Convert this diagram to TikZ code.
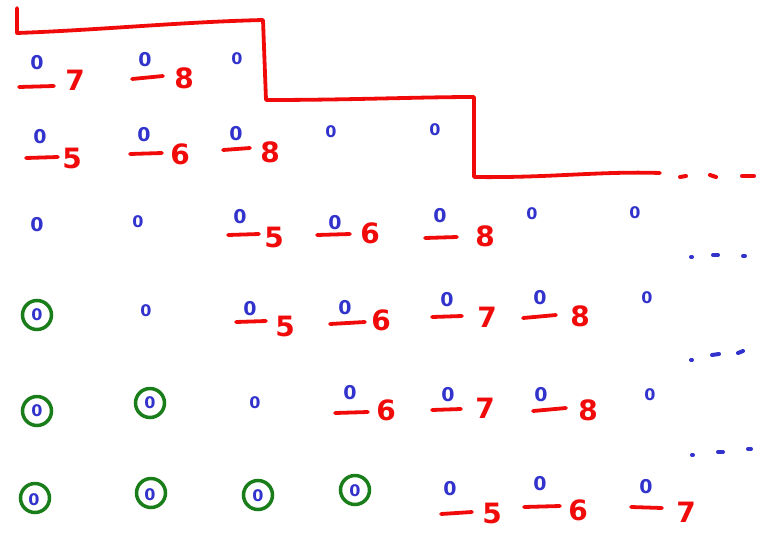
\documentclass[tikz,border=0pt]{standalone}
\usepackage{fontspec}
\setmainfont{DejaVu Sans}
\definecolor{pblue}{RGB}{50,50,205}
\definecolor{pred}{RGB}{240,10,10}
\definecolor{pgreen}{RGB}{25,125,25}
\begin{document}
\begin{tikzpicture}[x=1pt,y=-1pt,
  zero/.style={text=pblue,font=\fontsize{19}{19}\selectfont\bfseries,inner sep=0pt},
  small/.style={text=pblue,font=\fontsize{16}{16}\selectfont\bfseries,inner sep=0pt},
  dig/.style={text=pred,font=\fontsize{28}{28}\selectfont\bfseries,inner sep=0pt},
  ul/.style={draw=pred,line width=3.8pt,line cap=round},
  stair/.style={draw=pred,line width=3.8pt,line cap=round,line join=round},
  ring/.style={draw=pgreen,line width=3.5pt,circle,minimum size=29pt,inner sep=0pt},
  bdash/.style={draw=pblue,line width=4pt,line cap=round},
  rdash/.style={draw=pred,line width=4pt,line cap=round}]
\useasboundingbox (0,0) rectangle (766,542);
% staircase
\draw[stair] (17,8) -- (17,33) .. controls (100,30) and (180,22) .. (263,20)
  -- (266,100) .. controls (350,100) and (420,97) .. (474,97)
  -- (474,177) .. controls (550,178) and (600,171) .. (660,173);
\draw[rdash] (680,177) -- (686,176);
\draw[rdash] (710,175) -- (716,177);
\draw[rdash] (742,176) -- (754,176);
% row 1
\node[zero] (a1) at (37,63) {0};
\draw[ul] (19,87) -- (54,86);
\node[dig] (a1d) at (75,80) {7};
\node[zero] (a2) at (145,60) {0};
\draw[ul] (132,79) -- (163,76);
\node[dig] (a2d) at (184,78) {8};
\node[small] (a3) at (237,59) {0};
% row 2
\node[zero] (b1) at (40,137) {0};
\draw[ul] (26,158) -- (58,157);
\node[dig] (b1d) at (72,158) {5};
\node[zero] (b2) at (144,135) {0};
\draw[ul] (130,154) -- (162,153);
\node[dig] (b2d) at (180,154) {6};
\node[zero] (b3) at (236,134) {0};
\draw[ul] (223,150) -- (250,148);
\node[dig] (b3d) at (270,152) {8};
\node[small] (b4) at (331,132) {0};
\node[small] (b5) at (435,130) {0};
% row 3
\node[zero] (c1) at (37,225) {0};
\node[small] (c2) at (138,222) {0};
\node[zero] (c3) at (240,217) {0};
\draw[ul] (228,235) -- (259,234);
\node[dig] (c3d) at (274,237) {5};
\node[zero] (c4) at (335,223) {0};
\draw[ul] (317,235) -- (350,234);
\node[dig] (c4d) at (370,233) {6};
\node[zero] (c5) at (440,216) {0};
\draw[ul] (425,238) -- (457,237);
\node[dig] (c5d) at (485,236) {8};
\node[small] (c6) at (532,214) {0};
\node[small] (c7) at (635,213) {0};
\draw[bdash] (691,257) -- (692,257);
\draw[bdash] (713,255) -- (718,255);
\draw[bdash] (743,256) -- (745,256);
% row 4
\node[small] (d1) at (37,315) {0};
\node[ring] (d1r) at (37,315) {};
\node[small] (d2) at (146,311) {0};
\node[zero] (d3) at (250,309) {0};
\draw[ul] (236,322) -- (266,321);
\node[dig] (d3d) at (285,326) {5};
\node[zero] (d4) at (345,308) {0};
\draw[ul] (330,324) -- (365,322);
\node[dig] (d4d) at (381,320) {6};
\node[zero] (d5) at (447,300) {0};
\draw[ul] (432,317) -- (462,316);
\node[dig] (d5d) at (487,317) {7};
\node[zero] (d6) at (540,298) {0};
\draw[ul] (523,318) -- (556,315);
\node[dig] (d6d) at (580,316) {8};
\node[small] (d7) at (647,298) {0};
\draw[bdash] (691,360) -- (692,360);
\draw[bdash] (712,355) -- (719,354);
\draw[bdash] (738,353) -- (743,351);
% row 5
\node[small] (e1) at (37,411) {0};
\node[ring] (e1r) at (37,411) {};
\node[small] (e2) at (150,403) {0};
\node[ring] (e2r) at (150,403) {};
\node[small] (e3) at (255,403) {0};
\node[zero] (e4) at (350,393) {0};
\draw[ul] (335,413) -- (368,412);
\node[dig] (e4d) at (386,410) {6};
\node[zero] (e5) at (448,395) {0};
\draw[ul] (432,410) -- (461,409);
\node[dig] (e5d) at (485,408) {7};
\node[zero] (e6) at (541,395) {0};
\draw[ul] (533,411) -- (566,408);
\node[dig] (e6d) at (588,410) {8};
\node[small] (e7) at (650,395) {0};
\draw[bdash] (692,455) -- (693,455);
\draw[bdash] (718,452) -- (723,452);
\draw[bdash] (748,449) -- (751,449);
% row 6
\node[small] (f1) at (34,500) {0};
\node[ring] (f1r) at (35,498) {};
\node[small] (f2) at (150,495) {0};
\node[ring] (f2r) at (151,493) {};
\node[small] (f3) at (258,496) {0};
\node[ring] (f3r) at (258,495) {};
\node[small] (f4) at (355,491) {0};
\node[ring] (f4r) at (355,490) {};
\node[zero] (f5) at (450,489) {0};
\draw[ul] (441,514) -- (472,512);
\node[dig] (f5d) at (492,513) {5};
\node[zero] (f6) at (540,484) {0};
\draw[ul] (524,507) -- (560,506);
\node[dig] (f6d) at (578,510) {6};
\node[zero] (f7) at (646,487) {0};
\draw[ul] (631,507) -- (662,508);
\node[dig] (f7d) at (686,512) {7};
\end{tikzpicture}
\end{document}
